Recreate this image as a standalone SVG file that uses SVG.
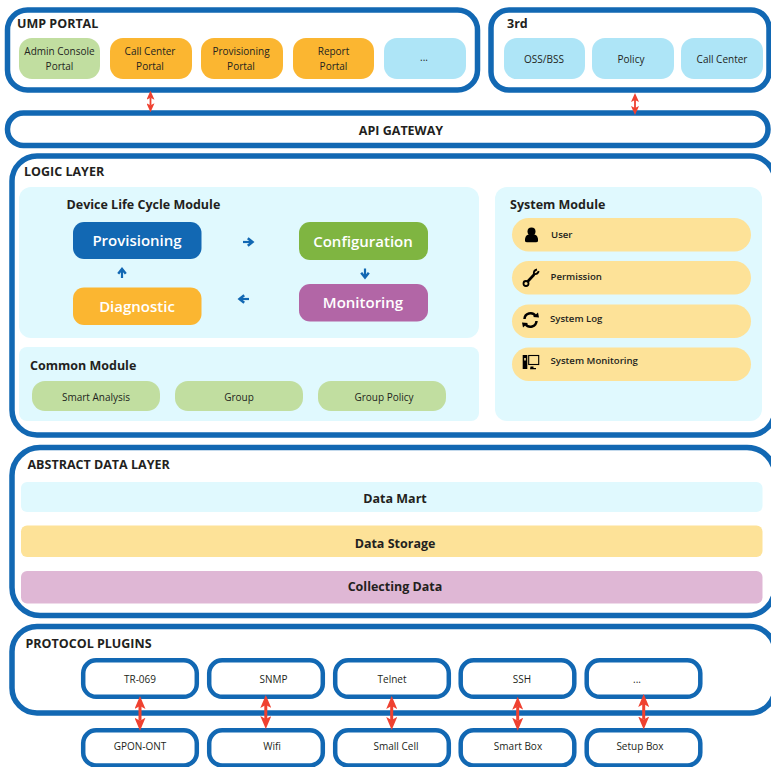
<svg xmlns="http://www.w3.org/2000/svg" width="771" height="767" viewBox="0 0 771 767">
<defs>
<marker id="red" viewBox="0 0 13 11" refX="3" refY="5.500" markerWidth="13" markerHeight="11" markerUnits="userSpaceOnUse" orient="auto-start-reverse"><path d="M0 0L13 5.500L0 11L3 5.500Z" fill="#ef4130"/></marker>
<marker id="reds" viewBox="0 0 9 8" refX="2" refY="4" markerWidth="9" markerHeight="8" markerUnits="userSpaceOnUse" orient="auto-start-reverse"><path d="M0 0L9 4L0 8L2 4Z" fill="#ef4130"/></marker>
<marker id="blue" viewBox="0 0 10 10" refX="6" refY="5" markerWidth="10" markerHeight="10" markerUnits="userSpaceOnUse" orient="auto"><path d="M1.800 1.200L6.500 5L1.800 8.800" fill="none" stroke="#1268b3" stroke-width="2.500"/></marker>
</defs>
<style>
text{font-family:"Open Sans","Noto Sans","Liberation Sans",sans-serif;fill:#231f20;text-anchor:middle}
.frame{fill:#fff;stroke:#1268b3;stroke-width:5.5}
.plug{fill:#fff;stroke:#1268b3;stroke-width:4.5}
.h{font-size:12.5px;font-weight:700;text-anchor:start}
.t{font-size:10px}
.s{font-size:9.6px;font-weight:600;text-anchor:start}
.b{font-size:12.5px;font-weight:700}
.w{font-size:15px;font-weight:600;fill:#fff}
.panel{fill:#e0f9fe}
.blue{fill:#aee5f7}.green{fill:#c1dea0}.orange{fill:#fbb631}.pill{fill:#fde298}
.red{stroke:#ef4130;stroke-width:3;fill:none}
.reds{stroke:#ef4130;stroke-width:1.800;fill:none}
.ar{stroke:#1268b3;stroke-width:2.200;fill:none}
.ic{fill:none;stroke:#000}
</style>
<g id="ump-portal">
<rect class="frame" x="7.500" y="10" width="470" height="80" rx="20"/>
<text class="h" x="17" y="28">UMP PORTAL</text>
</g>
<g id="admin-console-portal"><rect class="green" x="19" y="38" width="81" height="41" rx="13"/><text class="t" x="59.500" y="55">Admin Console</text><text class="t" x="59.500" y="70">Portal</text></g>
<g id="call-center-portal"><rect class="orange" x="110" y="38" width="82" height="41" rx="13"/><text class="t" x="150" y="55">Call Center</text><text class="t" x="150" y="70">Portal</text></g>
<g id="provisioning-portal"><rect class="orange" x="201" y="38" width="82" height="41" rx="13"/><text class="t" x="241" y="55">Provisioning</text><text class="t" x="241" y="70">Portal</text></g>
<g id="report-portal"><rect class="orange" x="293" y="38" width="81" height="41" rx="13"/><text class="t" x="333.500" y="55">Report</text><text class="t" x="333.500" y="70">Portal</text></g>
<g id="more-portal"><rect class="blue" x="384" y="38" width="82" height="41" rx="13"/><text class="t" x="424" y="61">...</text></g>
<g id="third-party">
<rect class="frame" x="491" y="10" width="278" height="80" rx="18"/>
<text class="h" x="507" y="28">3rd</text>
</g>
<g id="oss-bss"><rect class="blue" x="504" y="38" width="81" height="41" rx="13"/><text class="t" x="544" y="63">OSS/BSS</text></g>
<g id="policy"><rect class="blue" x="592" y="38" width="82" height="41" rx="13"/><text class="t" x="631" y="63">Policy</text></g>
<g id="call-center"><rect class="blue" x="681" y="38" width="82" height="41" rx="13"/><text class="t" x="722" y="63">Call Center</text></g>
<g id="api-gateway">
<rect class="frame" x="7.500" y="113" width="760.500" height="32.500" rx="16"/>
<text class="b" x="401" y="135">API GATEWAY</text>
</g>
<g id="logic-layer">
<rect class="frame" x="12" y="156" width="763" height="279" rx="25"/>
<text class="h" x="24" y="176">LOGIC LAYER</text>
</g>
<g id="device-life-cycle-module">
<rect class="panel" x="19" y="187" width="460" height="151" rx="12"/>
<text class="h" x="66.500" y="209">Device Life Cycle Module</text>
</g>
<g id="provisioning"><rect x="73" y="222" width="128.500" height="37" rx="11" fill="#1268b3"/><text class="w" x="137" y="246">Provisioning</text></g>
<g id="configuration"><rect x="299" y="222" width="129" height="38" rx="11" fill="#7fb541"/><text class="w" x="363" y="247">Configuration</text></g>
<g id="diagnostic"><rect x="73" y="287.500" width="128.500" height="37.500" rx="11" fill="#fbb631"/><text class="w" x="137" y="312">Diagnostic</text></g>
<g id="monitoring"><rect x="299" y="284" width="129" height="37.500" rx="11" fill="#b266a6"/><text class="w" x="363" y="308">Monitoring</text></g>
<g id="common-module">
<rect class="panel" x="19" y="347" width="460" height="74" rx="8"/>
<text class="h" x="30" y="370">Common Module</text>
</g>
<g id="smart-analysis"><rect class="green" x="32" y="381" width="128" height="30" rx="13"/><text class="t" x="96" y="401">Smart Analysis</text></g>
<g id="group"><rect class="green" x="175" y="381" width="128" height="30" rx="13"/><text class="t" x="239" y="401">Group</text></g>
<g id="group-policy"><rect class="green" x="318" y="381" width="128" height="30" rx="13"/><text class="t" x="384" y="401">Group Policy</text></g>
<g id="system-module">
<rect class="panel" x="495" y="187" width="267" height="234" rx="12"/>
<text class="h" x="510" y="209">System Module</text>
</g>
<g id="user"><rect class="pill" x="512" y="218" width="239" height="33.500" rx="16.700"/>
<circle cx="531.500" cy="231.500" r="4"/><path d="M525 241.300q-.5-5.800 3.500-6.800h6q4 1 3.500 6.800q-.5 1-2 1h-9q-1.500 0-2-1z"/>
<text class="s" x="551" y="238">User</text></g>
<g id="permission"><rect class="pill" x="512" y="261" width="239" height="33.500" rx="16.700"/>
<circle class="ic" cx="526" cy="283.500" r="2.500" stroke-width="1.800"/>
<path class="ic" stroke-width="2.600" d="M527.700 281.500L534.200 274.500"/>
<path class="ic" stroke-width="1.800" d="M537 269.500q-3.500 .8-3.200 4.500q3.500 1 5-2.800"/>
<text class="s" x="550.500" y="280">Permission</text></g>
<g id="system-log"><rect class="pill" x="512" y="304.500" width="239" height="33.500" rx="16.700"/>
<path class="ic" stroke-width="2.500" d="M524.500 319a6 6 0 0 1 11-3M536.500 321a6 6 0 0 1-11 3"/><path d="M533 317l6 .5-1-5zM528 323l-6-.5 1 5z"/>
<text class="s" x="550" y="322">System Log</text></g>
<g id="system-monitoring"><rect class="pill" x="512" y="347.500" width="239" height="33.500" rx="16.700"/>
<rect x="522.700" y="355" width="4.600" height="14"/><rect x="524.200" y="358" width="1.600" height="2.500" fill="#fde298"/>
<rect class="ic" x="528.700" y="355.500" width="10" height="9" stroke-width="1.100"/><path d="M530.500 366.500h3v1.400h2.500v1.400h-6z"/>
<text class="s" x="550.500" y="364">System Monitoring</text></g>
<g id="abstract-data-layer">
<rect class="frame" x="12" y="447.500" width="763" height="168" rx="28"/>
<text class="h" x="27.500" y="469">ABSTRACT DATA LAYER</text>
</g>
<g id="data-mart"><rect class="panel" x="21" y="482" width="741.500" height="30" rx="6"/><text class="b" x="395" y="503">Data Mart</text></g>
<g id="data-storage"><rect x="21" y="525.500" width="741.500" height="31.500" rx="6" fill="#fde298"/><text class="b" x="395" y="548">Data Storage</text></g>
<g id="collecting-data"><rect x="21" y="571" width="741.500" height="32.500" rx="6" fill="#dfb7d5"/><text class="b" x="395" y="591">Collecting Data</text></g>
<g id="protocol-plugins">
<rect class="frame" x="12" y="626.500" width="763" height="86.500" rx="25"/>
<text class="h" x="25.500" y="648">PROTOCOL PLUGINS</text>
</g>
<g id="tr-069"><rect class="plug" x="83.200" y="660.300" width="113.600" height="36.500" rx="13"/><text class="t" x="140" y="683">TR-069</text></g>
<g id="snmp"><rect class="plug" x="209.200" y="660.300" width="113.600" height="36.500" rx="13"/><text class="t" x="273.500" y="683">SNMP</text></g>
<g id="telnet"><rect class="plug" x="335.200" y="660.300" width="113.600" height="36.500" rx="13"/><text class="t" x="392" y="683">Telnet</text></g>
<g id="ssh"><rect class="plug" x="460.700" y="660.300" width="113.600" height="36.500" rx="13"/><text class="t" x="522" y="683">SSH</text></g>
<g id="more-plugin"><rect class="plug" x="586.700" y="660.300" width="113.600" height="36.500" rx="13"/><text class="t" x="637" y="683">...</text></g>
<g id="gpon-ont"><rect class="plug" x="83.200" y="730.300" width="113.600" height="35.200" rx="13"/><text class="t" x="140" y="750">GPON-ONT</text></g>
<g id="wifi"><rect class="plug" x="209.200" y="730.300" width="113.600" height="35.200" rx="13"/><text class="t" x="272" y="750">Wifi</text></g>
<g id="small-cell"><rect class="plug" x="335.200" y="730.300" width="113.600" height="35.200" rx="13"/><text class="t" x="396" y="750">Small Cell</text></g>
<g id="smart-box"><rect class="plug" x="460.700" y="730.300" width="113.600" height="35.200" rx="13"/><text class="t" x="518" y="750">Smart Box</text></g>
<g id="setup-box"><rect class="plug" x="586.700" y="730.300" width="113.600" height="35.200" rx="13"/><text class="t" x="640" y="750">Setup Box</text></g>
<g id="connectors">
<path class="reds" marker-start="url(#reds)" marker-end="url(#reds)" d="M150.500 97.700V105.300"/>
<path class="reds" marker-start="url(#reds)" marker-end="url(#reds)" d="M635 100V108"/>
<path class="red" marker-start="url(#red)" marker-end="url(#red)" d="M140 706V720.700"/>
<path class="red" marker-start="url(#red)" marker-end="url(#red)" d="M265.800 705V719"/>
<path class="red" marker-start="url(#red)" marker-end="url(#red)" d="M391.700 706V720"/>
<path class="red" marker-start="url(#red)" marker-end="url(#red)" d="M517.700 706.700V720.700"/>
<path class="red" marker-start="url(#red)" marker-end="url(#red)" d="M643.700 704V719.500"/>
<path class="ar" marker-end="url(#blue)" d="M243 242H252"/>
<path class="ar" marker-end="url(#blue)" d="M365 268.500V277"/>
<path class="ar" marker-end="url(#blue)" d="M249 299H240"/>
<path class="ar" marker-end="url(#blue)" d="M122 278V269.500"/>
</g>
</svg>
